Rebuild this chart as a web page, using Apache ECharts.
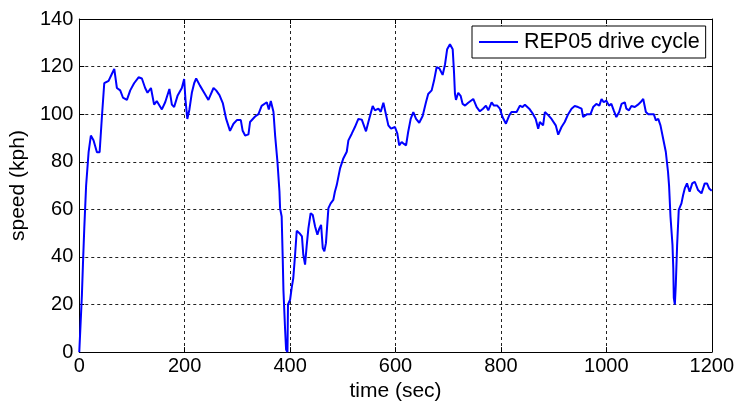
<!DOCTYPE html>
<html>
<head>
<meta charset="utf-8">
<script src="https://cdn.jsdelivr.net/npm/echarts@6/dist/echarts.min.js"></script>
<style>
html,body{margin:0;padding:0;background:#fff;}
#chart{width:737px;height:407px;}
</style>
</head>
<body>
<div id="chart"></div>
<script>
const seriesName = 'REP05 drive cycle';
const xTicks = [0, 200, 400, 600, 800, 1000, 1200];
const yTicks = [0, 20, 40, 60, 80, 100, 120, 140];
const timeSec = [0,2,5,7,9.5,13,17.7,22,27,33.5,38.6,43,47.4,55.6,62,66.4,71.4,77.7,82.8,90.4,96.7,104,112.5,118.8,125,129.5,136,142,147,156.7,163,171,175.7,180,186.4,194.6,199,201.5,205,209,213.6,218,221.8,229,237,245,254.7,259.7,266,272.5,278.7,286,292.6,299,306.5,310,314.7,321,324,333.6,340,346,355.8,359.6,363.4,368.4,371.6,376,379.8,381,384,386,387.4,390.5,392.4,395,396,400,403,406,409.5,412.6,417.7,422.5,425,428.4,431.6,434.7,439,443,447.4,451.8,455.6,458.8,462,465,468,472.7,477,482,485,488.5,494.8,501,507.5,510.6,517,523,529.5,536,544,548.5,556.7,561,567.5,572,577,580,586.4,591.5,599,603.5,607,611.7,616,620,624,628.8,633.8,639,645,651.5,657.8,662,668.6,673,678,683,689.4,694,698,703.3,708.5,711,712.8,714.7,719,723.5,727.4,732,738,747.5,754,760,766,771.6,776,782.3,786.7,793,798,803,809.5,815.8,820,829.8,836,841,845.5,853.7,861,866,870.7,873.8,880,883.4,889.7,896,904,908.7,915,921,927.6,934,940,946.4,953,956,963.6,970,975,981,986.7,990.9,995,1000,1005,1009.5,1014,1019,1024.3,1028.8,1035,1038,1043,1047.6,1054,1060,1064.8,1070,1075,1079.6,1085.7,1090,1094,1098.5,1102.7,1107.8,1112.8,1117,1119,1121.7,1125.5,1127,1128,1130,1131.8,1134.3,1137.4,1142.5,1145.6,1148.8,1153,1158,1163,1167.8,1174,1180.5,1186.7,1191,1195,1200];
const speedKph = [0,0,24,37,52,70,84,91,89,84,84,99,113,114,117,119,111,110,107,106,110,113,115.5,115,111,109,111,104,105.5,102,105,110.6,104,103,107.7,111,114.8,106,98,102,109,113,115,112,109,106,111,110,108,104.5,98,93,96,97.5,97.5,93,91,91.5,96.7,99,100,103.5,105,102,105.5,101,91,80,67.5,60.4,57,39.5,25.8,9.6,1,0,20,22,27,31,41,51,50,48.6,41,36.8,45,52,58.4,57.6,52.8,49.3,52,53.5,43.7,42.4,45.8,60.5,62.5,64,67.4,70.2,77.2,81.4,84.2,89,91.8,94.6,98,97.7,92.8,96.7,103.4,101.6,102.3,101,104.8,104.8,95.3,93.9,94.6,91.8,86.9,88.3,87.5,86.9,92.5,98,100.9,98,96.4,99.2,105,108.5,110,114,119.7,119.3,116.5,121,127.3,129.4,127.3,117.6,108.5,106,109,107.7,104.3,103.6,104.8,106.4,103,101.2,102.3,103.6,101.6,105,103.6,103.6,102.3,98.8,96,99.5,100.9,100.9,103.6,103,104,102.3,100,98,93.9,96.7,95.3,100.9,99.6,98,95.3,91.4,94.6,96.7,100,102.3,103.4,103,102.3,98.8,100,100,103,104.3,103.6,106.4,105,105.7,103.6,104.3,101.6,98.8,100.9,104.3,105,102.3,101.6,103.4,103,104,105,106.4,100.9,100,100,100,97.4,98,95.3,89.7,84.2,75.8,70,57,45,35.4,22.8,20,28.4,45,59.8,62.5,65.9,68.8,70.9,67.4,70.9,71.6,68.1,66.7,70.9,70.9,68.8,67.8];

const FONT = 'Liberation Sans, Arial, sans-serif';
const FS = 20;
const FS_NAME = 21;
const FS_LEG = 21.5;
const chart = echarts.init(document.getElementById('chart'), null, {renderer: 'canvas'});
const gridLine = {show: true, lineStyle: {color: '#222', width: 1, type: [3, 3]}};
const axLine = {show: true, onZero: false, lineStyle: {color: '#000', width: 1}};
const tick = {show: true, inside: true, length: 5, lineStyle: {color: '#000'}};
const plain = v => String(v);
const xBase = {type: 'value', min: xTicks[0], max: xTicks[xTicks.length - 1], interval: xTicks[1] - xTicks[0]};
const yBase = {type: 'value', min: yTicks[0], max: yTicks[yTicks.length - 1], interval: yTicks[1] - yTicks[0]};
chart.setOption({
  animation: false,
  backgroundColor: '#fff',
  grid: {left: 79, right: 25, top: 19, bottom: 52, containLabel: false},
  legend: {
    show: true,
    data: [seriesName],
    left: 472, top: 26,
    icon: 'rect', itemWidth: 39, itemHeight: 2, itemGap: 5,
    padding: [5, 6, 5, 7],
    borderColor: '#000', borderWidth: 1, borderRadius: 0,
    backgroundColor: '#fff',
    textStyle: {fontFamily: FONT, fontSize: FS_LEG, color: '#000', padding: [0, 0, 0, 1]}
  },
  xAxis: [
    Object.assign({}, xBase, {
      position: 'bottom',
      name: 'time (sec)', nameLocation: 'middle', nameGap: 27,
      nameTextStyle: {fontFamily: FONT, fontSize: FS_NAME, color: '#000'},
      axisLine: axLine, axisTick: tick, splitLine: gridLine,
      axisLabel: {fontFamily: FONT, fontSize: FS, color: '#000', margin: 4, formatter: plain}
    }),
    Object.assign({}, xBase, {
      position: 'top', axisLine: axLine, axisTick: tick, splitLine: {show: false},
      axisLabel: {show: false}
    })
  ],
  yAxis: [
    Object.assign({}, yBase, {
      position: 'left',
      name: 'speed (kph)', nameLocation: 'middle', nameGap: 45,
      nameTextStyle: {fontFamily: FONT, fontSize: FS_NAME, color: '#000'},
      axisLine: axLine, axisTick: tick, splitLine: gridLine,
      axisLabel: {fontFamily: FONT, fontSize: FS, color: '#000', margin: 6, formatter: plain}
    }),
    Object.assign({}, yBase, {
      position: 'right', axisLine: axLine, axisTick: tick, splitLine: {show: false},
      axisLabel: {show: false}
    })
  ],
  series: [{
    name: seriesName,
    type: 'line',
    xAxisIndex: 0, yAxisIndex: 0,
    data: timeSec.map((t, i) => [t, speedKph[i]]),
    symbol: 'none', showSymbol: false,
    lineStyle: {color: '#0000ff', width: 2},
    itemStyle: {color: '#0000ff'},
    clip: true
  }]
});
</script>
</body>
</html>
